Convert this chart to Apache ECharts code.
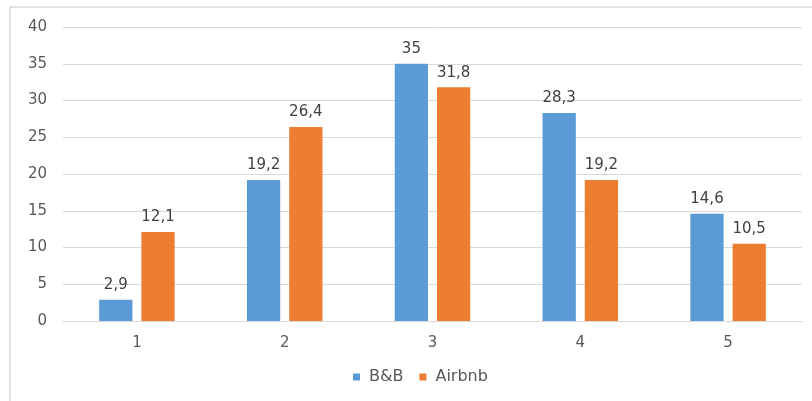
<!DOCTYPE html>
<html>
<head>
<meta charset="utf-8">
<script src="https://cdn.jsdelivr.net/npm/echarts@6/dist/echarts.min.js"></script>
<style>html,body{margin:0;padding:0;background:#fff;}#c{width:812px;height:401px;}</style>
</head>
<body>
<div id="c"></div>
<script>
var categories = ['1', '2', '3', '4', '5'];
var bnbValues = [2.9, 19.2, 35, 28.3, 14.6];
var airbnbValues = [12.1, 26.4, 31.8, 19.2, 10.5];
var seriesNames = ['B&B', 'Airbnb'];

var chart = echarts.init(document.getElementById('c'), null, {renderer: 'canvas'});
var fontFam = '"DejaVu Sans", sans-serif';
function lbl(p) { return String(p.value).replace('.', ','); }
chart.setOption({
  animation: false,
  backgroundColor: '#fff',
  graphic: [{
    type: 'rect',
    shape: {x: 10, y: 7, width: 820, height: 420},
    style: {fill: 'none', stroke: '#d9d9d9', lineWidth: 1.5},
    silent: true
  }],
  grid: {left: 63, right: 10, top: 27, bottom: 80, containLabel: false},
  legend: {
    data: seriesNames,
    bottom: 11,
    left: 348,
    itemWidth: 7,
    itemHeight: 7,
    itemGap: 16,
    icon: 'rect',
    textStyle: {color: '#595959', fontSize: 16, fontFamily: fontFam, padding: [0, 0, 0, 4]}
  },
  xAxis: {
    type: 'category',
    data: categories,
    axisLine: {show: true, lineStyle: {color: '#d9d9d9', width: 1}},
    axisTick: {show: false},
    axisLabel: {color: '#595959', fontSize: 15, fontFamily: fontFam, margin: 15}
  },
  yAxis: {
    type: 'value',
    min: 0, max: 40, interval: 5,
    axisLine: {show: false},
    axisTick: {show: false},
    splitLine: {lineStyle: {color: '#d9d9d9', width: 1}},
    axisLabel: {color: '#595959', fontSize: 15, fontFamily: fontFam, margin: 16}
  },
  series: [{
    name: seriesNames[0],
    type: 'bar',
    data: bnbValues,
    barWidth: '22.5%',
    barGap: '27%',
    itemStyle: {color: '#5B9BD5'},
    label: {show: true, position: 'top', color: '#404040', fontSize: 15, fontFamily: fontFam, formatter: lbl, distance: 7}
  }, {
    name: seriesNames[1],
    type: 'bar',
    data: airbnbValues,
    barWidth: '22.5%',
    itemStyle: {color: '#ED7D31'},
    label: {show: true, position: 'top', color: '#404040', fontSize: 15, fontFamily: fontFam, formatter: lbl, distance: 7}
  }]
});
</script>
</body>
</html>
